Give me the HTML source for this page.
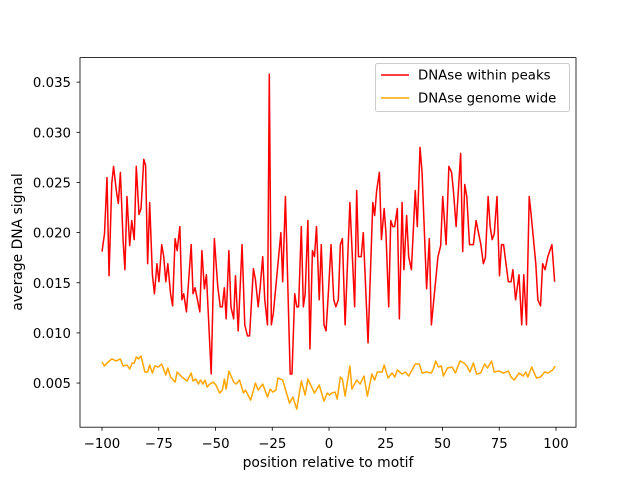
<!DOCTYPE html>
<html><head><meta charset="utf-8"><style>
body{margin:0;background:#fff;}
svg{display:block;font-family:"DejaVu Sans","Liberation Sans",sans-serif;}
</style></head><body>
<svg id="chart" width="640" height="480">
<rect x="0" y="0" width="640" height="480" fill="#fff"/>
<g id="plot"></g>
<g id="axes"></g>
</svg>
<script>
const xTicks=[-100,-75,-50,-25,0,25,50,75,100];
const yTicks=[0.005,0.010,0.015,0.020,0.025,0.030,0.035];
const yTickLabels=["0.005","0.010","0.015","0.020","0.025","0.030","0.035"];
const peaksX=[-100,-98.9,-97.8,-96.9,-95.7,-94.9,-93.7,-92.8,-91.9,-90.7,-89.9,-89,-87.8,-86.9,-85.8,-84.9,-83.7,-82.8,-81.6,-80.8,-79.9,-79,-77.8,-76.9,-75.8,-74.9,-73.7,-72.8,-71.9,-71,-69.8,-68.9,-67.8,-66.9,-65.7,-64.8,-64,-62.8,-60.7,-59.9,-59,-56.9,-56,-54.9,-54,-51.9,-50.5,-49,-47.9,-47,-46.1,-45.3,-44.1,-43.2,-42,-41.2,-40,-38.3,-37.1,-35.9,-35,-33.3,-32.4,-31.2,-30.3,-29.2,-28.3,-27.1,-26.3,-25.4,-24.5,-21.2,-20.4,-19.2,-17.1,-16.3,-15.1,-14.2,-13.4,-12.2,-11.3,-10.5,-9.3,-8.4,-7.3,-6.4,-5.5,-4.3,-3.4,-2.2,-1.3,-0.3,0.9,2.1,3,4.1,5,5.9,7.1,9.2,11.3,12.2,13,14.2,15.1,17.2,19.3,20.1,21,22.2,23.1,24.3,25.1,26.3,27.2,28.1,28.9,30.1,31,32.2,33,34.2,35.1,36.3,38,38.9,40.1,41,43,44.2,45.1,48,49.2,50.1,51.6,52.8,54,54.8,56,58,58.9,59.8,60.7,61.9,63.6,64.8,66.9,68,68.9,70.1,71,71.9,72.8,74,75.1,76,76.9,79,80.2,81,82.2,83.7,84.9,85.8,87,88.2,89,91.1,92,93.2,94.1,95.2,96.4,98.2,99.4];
const peaksY=[18.1,19.9,25.5,15.7,24.9,26.6,24.2,22.9,26.0,19.2,16.3,23.6,18.7,21.2,19.3,26.6,21.8,22.4,27.3,26.7,16.9,23.0,15.8,13.9,16.9,15.1,18.8,17.6,15.1,16.9,13.9,12.7,19.4,18.2,20.6,13.3,13.9,12.1,18.8,13.9,14.5,12.1,18.2,14.4,15.8,5.9,19.4,14.6,12.6,12.6,14.5,11.4,18.2,12.6,11.4,15.7,10.2,18.8,10.8,9.7,9.7,16.4,15.3,12.6,14.6,17.6,13.3,10.8,35.8,10.8,12.0,20.0,15.1,23.6,5.9,5.9,13.9,12.6,12.6,20.6,12.6,13.9,21.2,8.4,18.2,17.6,20.6,13.3,18.8,10.8,10.2,13.9,18.8,13.3,12.6,13.3,18.8,19.4,10.8,23.0,12.6,24.2,17.6,17.6,20.0,9.0,23.0,21.7,24.2,26.0,19.3,22.4,19.9,12.6,21.2,20.6,20.6,22.4,11.4,23.0,16.3,21.7,17.6,16.3,24.2,20.6,28.5,26.0,14.4,19.4,10.8,17.6,18.7,23.6,18.8,26.6,26.0,24.2,20.6,27.9,18.1,24.8,23.6,18.8,18.8,21.2,18.8,16.9,17.5,23.6,20.6,19.3,19.9,23.6,15.7,18.8,18.8,15.1,15.1,16.3,13.3,15.8,10.8,15.8,10.8,23.6,21.9,16.9,13.3,12.7,16.9,16.3,17.6,18.8,15.1];
const genomeX=[-100,-98.9,-97.8,-95.7,-93.7,-91.9,-90.7,-89,-87.8,-86.7,-85.8,-84.9,-83.9,-82.8,-81.1,-79.9,-79,-77.8,-76.7,-75.2,-73.7,-71.9,-71,-69.8,-67.8,-66.9,-64.8,-62.5,-60.7,-59.9,-58.7,-57.5,-56.6,-55.5,-54.6,-53.7,-52.5,-51,-49.8,-48.2,-47,-46.1,-45.3,-44.1,-42,-40.9,-39.4,-37.7,-36.8,-34.5,-32.4,-31.2,-29.2,-27.1,-25.9,-24.8,-23.4,-22.5,-20.4,-17.4,-15.9,-14.2,-12.2,-10.5,-9.3,-6.4,-4.3,-2.2,-0.8,0.2,1.2,2.7,3.6,5,5.9,7.1,9.2,10.1,12.2,13.7,15.4,16.9,18.9,20.1,21.3,23.4,24.3,26,27.8,29,30.1,32.2,33.7,35.1,36.6,38,39.8,41,43,45.1,46.1,47,48.2,49.5,50.4,52.2,54.2,55.7,57.7,59.5,60.7,62.1,63.6,65,66.8,68.6,69.8,71.6,72.8,74.8,76.9,79,80.2,81.6,83.7,85.5,86.7,87.6,89.3,91.4,93.2,95,96.5,98.5,99.7];
const genomeY=[7.1,6.7,7.0,7.4,7.2,7.4,6.7,6.8,6.4,7.0,7.0,7.6,7.4,7.7,6.1,6.1,6.8,6.0,6.7,6.6,6.9,5.8,6.5,5.6,5.1,6.1,5.6,5.2,6.0,5.2,5.4,4.9,5.3,4.9,5.3,4.6,4.9,5.1,4.8,4.0,4.3,5.4,4.4,6.2,5.1,4.9,5.3,4.0,4.3,3.3,5.0,4.3,4.9,3.6,4.4,4.1,4.3,5.5,5.3,3.0,3.6,2.4,5.2,3.8,5.4,4.0,4.8,3.2,4.0,3.8,4.0,4.1,3.4,5.6,5.4,3.7,6.7,4.4,5.3,4.9,5.7,3.7,5.9,5.3,6.1,6.1,6.8,5.5,6.0,5.6,6.3,5.9,6.1,5.7,6.3,6.9,6.9,6.0,6.1,6.0,6.5,7.2,6.6,6.7,5.7,6.5,6.6,6.0,7.2,7.0,6.7,6.1,7.0,5.9,6.0,6.9,6.5,7.2,6.1,6.2,6.0,6.2,5.6,5.3,6.0,5.7,6.1,5.6,6.6,5.5,5.6,6.1,6.0,6.3,6.7];

const L=80,R=576,T=57.6,B=427.2;
const xs=v=>102+(v+100)*(454/200);
const ys=v=>433.2-v*10030;
const NS="http://www.w3.org/2000/svg";
function mk(tag,attrs,parent,txt){const e=document.createElementNS(NS,tag);for(const k in attrs)e.setAttribute(k,attrs[k]);if(txt!==undefined)e.textContent=txt;parent.appendChild(e);return e;}
const plot=document.getElementById('plot'),axes=document.getElementById('axes');

function series(X,Y,color,name){
  const pts=X.map((x,i)=>xs(x).toFixed(2)+","+ys(Y[i]/1000).toFixed(2)).join(" ");
  const p=mk('polyline',{points:pts,fill:'none',stroke:color,'stroke-width':1.5,'stroke-linejoin':'round'},plot);
  
  
}
series(genomeX,genomeY,'#ffa500','genome-wide-line');
series(peaksX,peaksY,'#ff0000','within-peaks-line');

const frame=mk('rect',{x:L,y:T,width:R-L,height:B-T,fill:'none',stroke:'#000','stroke-width':0.8},axes);



xTicks.forEach(t=>{
  const x=xs(t);
  mk('line',{x1:x,x2:x,y1:B,y2:B+3.5,stroke:'#000','stroke-width':0.8},axes);
  const tx=mk('text',{x:x,y:448,'text-anchor':'middle','font-size':'13.3px',fill:'#000'},axes,String(t).replace('-','\u2212'));
  
  
});
yTicks.forEach((t,i)=>{
  const y=ys(t);
  mk('line',{x1:L-3.5,x2:L,y1:y,y2:y,stroke:'#000','stroke-width':0.8},axes);
  const tx=mk('text',{x:71,y:y+5,'text-anchor':'end','font-size':'13.3px',fill:'#000'},axes,yTickLabels[i]);
  
  
});
const xl=mk('text',{x:328,y:467,'text-anchor':'middle','font-size':'13.9px',fill:'#000'},axes,'position relative to motif');


const yl=mk('text',{x:0,y:0,'text-anchor':'middle','font-size':'13.9px',fill:'#000',transform:'translate(22,242) rotate(-90)'},axes,'average DNA signal');



const lg=mk('g',{},axes);


mk('rect',{x:375.5,y:63.5,width:194,height:48,rx:2,fill:'#fff','fill-opacity':0.8,stroke:'#ccc','stroke-width':1},lg);
[['DNAse within peaks','#ff0000',75],['DNAse genome wide','#ffa500',98]].forEach(([t,c,y])=>{
  mk('line',{x1:381,x2:409,y1:y,y2:y,stroke:c,'stroke-width':1.5},lg);
  const e=mk('text',{x:418,y:y+4.5,'font-size':'13.3px',fill:'#000'},lg,t);
  
  
});
</script>
</body></html>
